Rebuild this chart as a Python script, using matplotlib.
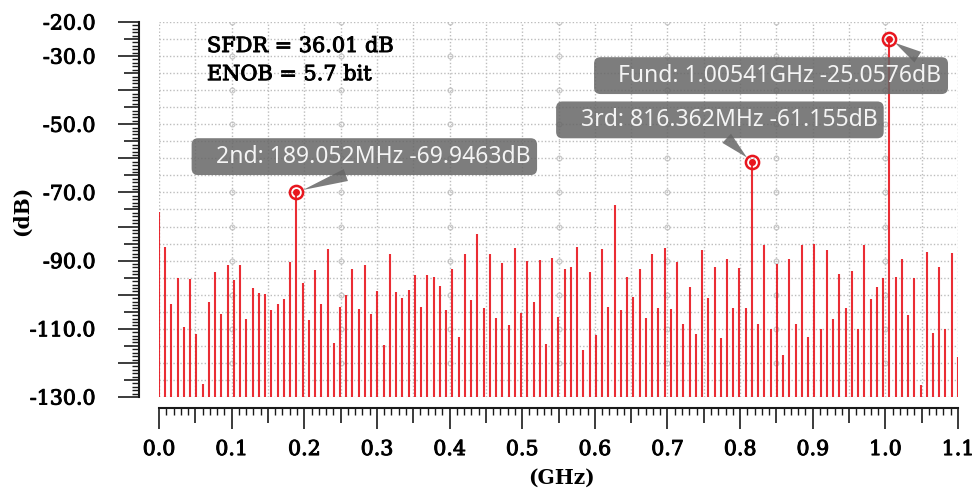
import numpy as np
import matplotlib.pyplot as plt
import matplotlib.patheffects as pe
from matplotlib.ticker import MultipleLocator, FuncFormatter

# FFT output: 256-point record, bins 0..N/2
fs_ghz = 2.19988
n_fft = 256
mag_db = [
    -75.6, -85.9, -102.7, -95.0, -109.4, -95.4, -111.5, -126.2, -102.0, -93.2,
    -105.7, -91.4, -95.7, -91.4, -107.1, -97.9, -99.5, -99.8, -104.6, -102.7,
    -101.3, -90.3, -69.9463, -96.7, -107.4, -92.8, -102.7, -86.6, -114.3, -103.5,
    -100.2, -92.5, -104.2, -91.4, -105.7, -99.0, -114.8, -88.1, -99.1, -100.9,
    -98.6, -94.3, -103.5, -94.3, -94.7, -97.3, -104.6, -92.5, -112.3, -88.1,
    -101.6, -82.2, -103.8, -88.1, -106.7, -90.6, -109.0, -86.3, -105.3, -90.2,
    -102.0, -89.8, -114.5, -89.1, -106.4, -92.5, -91.8, -85.9, -116.3, -93.2,
    -111.9, -86.6, -103.5, -73.7, -104.6, -94.7, -100.6, -92.5, -106.7, -88.1,
    -103.8, -86.3, -104.2, -90.3, -108.6, -97.6, -111.5, -87.0, -101.0, -91.8,
    -112.7, -89.5, -103.8, -92.2, -103.8, -61.155, -108.6, -85.5, -110.1, -91.0,
    -117.8, -89.5, -108.6, -85.5, -112.3, -85.1, -110.1, -87.0, -107.1, -93.9,
    -103.8, -92.9, -110.1, -85.5, -101.3, -97.6, -95.1, -25.0576, -94.7, -89.5,
    -106.0, -95.1, -126.6, -87.4, -111.2, -91.8, -110.1, -87.7, -118.2,
]

# marked tones: (bin, label)
markers = [
    (22, "2nd: 189.052MHz -69.9463dB"),
    (95, "3rd: 816.362MHz -61.155dB"),
    (117, "Fund: 1.00541GHz -25.0576dB"),
]
sfdr_db = 36.01
enob_bit = 5.7

y_labels = [-20, -30, -50, -70, -90, -110, -130]

freq = np.arange(len(mag_db)) * fs_ghz / n_fft
mag = np.array(mag_db)

W, H = 974, 491
fig = plt.figure(figsize=(W / 100, H / 100), dpi=100)
ax = fig.add_axes([159 / W, 1 - 397 / H, 799 / W, 375 / H])
ax.set_xlim(0, 1.1)
ax.set_ylim(-130, -20)

# dotted grid with small rings on the crossings
ax.xaxis.set_major_locator(MultipleLocator(0.05))
ax.yaxis.set_major_locator(MultipleLocator(5))
ax.grid(True, which="major", color="#bdbdbd", linestyle=(0, (1, 1.5)), linewidth=1.0)
gx = np.arange(0.1, 1.05, 0.15)
gy = np.arange(-120, -15, 10)
GX, GY = np.meshgrid(gx, gy)
ax.plot(GX.ravel(), GY.ravel(), "o", ms=3.5, mfc="none", mec="#c4c4c4", mew=0.8, zorder=1)

red = "#e8161e"
ax.vlines(freq, -130, mag, color=red, linewidth=1.5, alpha=0.9, zorder=3)

box_pos = {22: (0.257, 0.641, 0.5, 0.0), 95: (0.702, 0.739, 0.5, 0.0), 117: (0.766, 0.857, 0.96, 1.0)}
for k, label in markers:
    x, y = freq[k], mag[k]
    ax.plot(x, y, "o", ms=9.5, mfc="none", mec=red, mew=1.8, zorder=5)
    ax.plot(x, y, "o", ms=4, color=red, zorder=5)
    tx, ty, rx, ry = box_pos[k]
    ax.annotate("   " + label, xy=(x, y), xytext=(tx, ty), textcoords="axes fraction",
                ha="center", va="center", fontsize=16.5, family="Noto Sans", color="#f4f4f4",
                bbox=dict(boxstyle="round,pad=0.28", fc="#666666", ec="none", alpha=0.85),
                arrowprops=dict(arrowstyle="wedge,tail_width=0.55", fc="#666666", ec="none",
                                alpha=0.85, relpos=(rx, ry), shrinkA=0, shrinkB=5),
                zorder=4)

serif = "DejaVu Serif"
heavy = [pe.withStroke(linewidth=0.7, foreground="black")]
ax.text(0.060, 0.92, f"SFDR = {sfdr_db:.2f} dB", transform=ax.transAxes,
        fontsize=15, family=serif, va="baseline", path_effects=heavy)
ax.text(0.060, 0.845, f"ENOB = {enob_bit} bit", transform=ax.transAxes,
        fontsize=15, family=serif, va="baseline", path_effects=heavy)

# ruler-style axes set off from the plot area
for s in ("top", "right"):
    ax.spines[s].set_visible(False)
ax.spines["left"].set_position(("outward", 14.4))
ax.spines["bottom"].set_position(("outward", 7.9))
for s in ("left", "bottom"):
    ax.spines[s].set_linewidth(1.5)
    ax.spines[s].set_color("#1a1a1a")

ax.xaxis.set_minor_locator(MultipleLocator(0.01))
ax.yaxis.set_minor_locator(MultipleLocator(1))
ax.xaxis.set_major_formatter(FuncFormatter(
    lambda v, p: f"{v:.1f}" if abs(v * 10 - round(v * 10)) < 1e-6 else ""))
ax.yaxis.set_major_formatter(FuncFormatter(
    lambda v, p: f"{v:.1f}" if int(round(v)) in y_labels else ""))
ax.tick_params(which="major", direction="out", length=15.1, width=1.2, color="#1a1a1a",
               labelsize=14.8)
ax.tick_params(which="minor", direction="out", length=5, width=1.0, color="#1a1a1a")
ax.tick_params(axis="y", which="major", pad=16.3)
ax.tick_params(axis="x", which="major", pad=8)
for lab in ax.get_xticklabels() + ax.get_yticklabels():
    lab.set_family(serif)
    lab.set_path_effects(heavy)

# half-decade ticks are shorter than the decade ones
for loc, tick in zip(ax.yaxis.get_majorticklocs(), ax.yaxis.get_major_ticks()):
    if int(round(loc)) % 10 != 0:
        tick.tick1line.set_markersize(10.8)
for loc, tick in zip(ax.xaxis.get_majorticklocs(), ax.xaxis.get_major_ticks()):
    if abs(loc * 10 - round(loc * 10)) > 1e-6:
        tick.tick1line.set_markersize(10.8)

fig.text(22 / W, 1 - 211 / H, "(dB)", rotation=90, ha="center", va="center",
         fontsize=14.5, family=serif, weight="bold")
fig.text(561 / W, 1 - 478 / H, "(GHz)", ha="center", va="center",
         fontsize=14.5, family=serif, weight="bold")

fig.savefig("out.png", dpi=100)
